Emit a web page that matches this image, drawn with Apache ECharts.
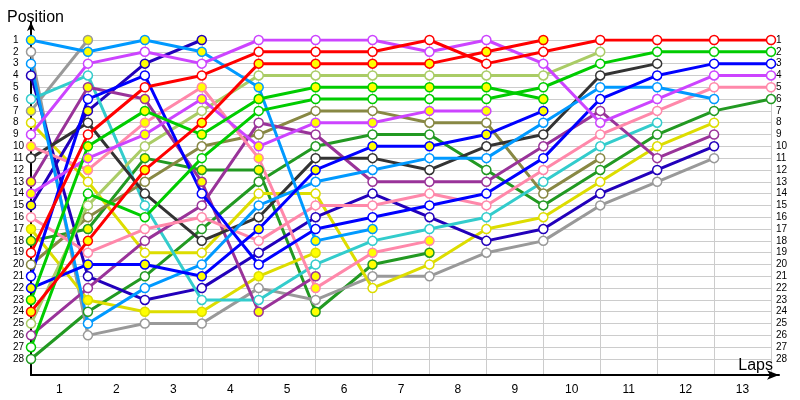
<!DOCTYPE html>
<html><head><meta charset="utf-8">
<script src="https://cdn.jsdelivr.net/npm/echarts@6/dist/echarts.min.js"></script>
<style>html,body{margin:0;padding:0;background:#fff}#c{width:800px;height:400px}</style>
</head><body><div id="c"></div>
<script>
// lap index 0 = grid / start, 1..13 = laps
const laps = [0,1,2,3,4,5,6,7,8,9,10,11,12,13];
const lapLabels = ['1','2','3','4','5','6','7','8','9','10','11','12','13'];
const labelSlots = [0.5,1.5,2.5,3.5,4.5,5.5,6.5,7.5,8.5,9.5,10.5,11.5,12.5];

// positions per lap (null = not running)
const redW      = [19,9,5,4,2,2,2,1,3,2,1,1,1,1];
const redY      = [24,18,12,8,3,3,3,3,2,1,null,null,null,null];
const violetW   = [9,3,2,3,1,1,1,2,1,3,8,6,4,4];
const violetY   = [14,11,9,6,10,8,8,7,7,null,null,null,null,null];
const greenW    = [27,14,16,11,7,6,6,6,6,5,3,2,2,2];
const greenY    = [23,10,7,9,6,5,5,5,5,6,null,null,null,null];
const blueW     = [21,6,4,14,20,17,16,15,14,11,6,4,3,3];
const blueY     = [22,20,20,21,17,12,10,10,9,7,null,null,null,null];
const indigoW   = [4,21,23,22,19,16,14,16,18,17,14,12,10,null];
const indigoY   = [15,7,3,1,null,null,null,null,null,null,null,null,null,null];
const pinkW     = [16,19,17,16,18,15,15,14,15,12,9,7,5,5];
const pinkY     = [10,12,8,5,11,22,19,18,null,null,null,null,null,null];
const lblueY    = [1,2,1,2,5,18,17,null,null,null,null,null,null,null];
const lblueW    = [3,25,22,20,15,13,12,11,11,8,5,5,6,null];
const cyanW     = [6,4,15,23,23,20,18,17,16,13,10,8,null,null];
const yellowW   = [8,13,19,19,14,14,22,20,17,16,13,10,8,null];
const yellowY   = [17,23,24,24,21,19,null,null,null,null,null,null,null,null];
const grayW     = [2,26,25,25,22,23,21,21,19,18,15,13,11,null];
const grayY     = [7,1,null,null,null,null,null,null,null,null,null,null,null,null];
const dkgrayW   = [11,8,14,18,16,11,11,12,10,9,4,3,null,null];
const oliveW    = [20,16,13,10,9,7,7,8,8,14,11,null,null,null];
const loliveW   = [25,15,10,7,4,4,4,4,4,4,2,null,null,null];
const dkpurpleW = [26,22,18,15,8,9,13,13,13,10,7,11,9,null];
const dkpurpleY = [13,5,6,13,24,21,null,null,null,null,null,null,null,null];
const dkgreenW  = [28,24,21,17,13,10,9,9,12,15,12,9,7,6];
const dkgreenY  = [18,17,11,12,12,24,20,19,null,null,null,null,null,null];

const W = '#ffffff', Y = '#ffff00';
const cars = [
  ['dkgreenW', '#229922', W, dkgreenW], ['dkgreenY', '#229922', Y, dkgreenY],
  ['grayW', '#999999', W, grayW], ['grayY', '#999999', Y, grayY],
  ['yellowW', '#dddd00', W, yellowW], ['yellowY', '#dddd00', Y, yellowY],
  ['indigoW', '#2200bb', W, indigoW], ['indigoY', '#2200bb', Y, indigoY],
  ['cyanW', '#33cccc', W, cyanW],
  ['oliveW', '#888844', W, oliveW], ['loliveW', '#aacc66', W, loliveW],
  ['dkpurpleW', '#993399', W, dkpurpleW], ['dkpurpleY', '#993399', Y, dkpurpleY],
  ['dkgrayW', '#333333', W, dkgrayW],
  ['pinkW', '#ff88aa', W, pinkW], ['pinkY', '#ff88aa', Y, pinkY],
  ['lblueW', '#0099ff', W, lblueW], ['lblueY', '#0099ff', Y, lblueY],
  ['blueW', '#0000ff', W, blueW], ['blueY', '#0000ff', Y, blueY],
  ['violetW', '#cc44ff', W, violetW], ['violetY', '#cc44ff', Y, violetY],
  ['greenW', '#00cc00', W, greenW], ['greenY', '#00cc00', Y, greenY],
  ['redW', '#ff0000', W, redW], ['redY', '#ff0000', Y, redY]
];

const toPoints = arr => arr.map((p, i) => p == null ? null : [laps[i], p]).filter(d => d);

const lineSeries = cars.map(([name, color, fill, arr]) => ({
  name, type: 'line', xAxisIndex: 0, yAxisIndex: 0,
  data: toPoints(arr), showSymbol: false,
  lineStyle: { color, width: 3 },
  emphasis: { disabled: true }, z: 3
}));
const markerSeries = cars.map(([name, color, fill, arr]) => ({
  name: name + ' marks', type: 'scatter', xAxisIndex: 0, yAxisIndex: 0,
  data: toPoints(arr), symbol: 'circle', symbolSize: 9,
  itemStyle: { color: fill, borderColor: color, borderWidth: 1.5, opacity: 1 },
  emphasis: { disabled: true }, z: 4
}));

const FONT = 'Liberation Sans';
const chart = echarts.init(document.getElementById('c'), null, { renderer: 'canvas' });
chart.setOption({
  animation: false,
  backgroundColor: '#ffffff',
  textStyle: { fontFamily: FONT },
  title: [
    { text: 'Position', left: 2, top: 5, textStyle: { fontSize: 16, fontWeight: 'normal', color: '#000', fontFamily: FONT } },
    { text: 'Laps', right: 22, top: 353, textStyle: { fontSize: 16, fontWeight: 'normal', color: '#000', fontFamily: FONT } }
  ],
  grid: [
    { left: 31, right: 29, top: 40, bottom: 41 },
    { left: 31, right: 29, top: 40, bottom: 25 },
    { left: 31, right: 21, top: 22, bottom: 25 }
  ],
  xAxis: [
    { gridIndex: 0, type: 'value', min: 0, max: 13, show: false },
    { gridIndex: 1, type: 'value', min: 0, max: 13, interval: 1,
      axisLine: { show: false }, axisTick: { show: false },
      splitLine: { show: true, lineStyle: { color: '#cccccc', width: 1 } },
      axisLabel: { customValues: labelSlots, formatter: v => lapLabels[Math.round(v - 0.5)],
        fontSize: 12, color: '#000', margin: 9, fontFamily: FONT } },
    { gridIndex: 2, type: 'value', min: 0, max: 1,
      axisLine: { show: true, onZero: false, symbol: ['none', 'arrow'], symbolSize: [7, 12], lineStyle: { color: '#000', width: 2 } },
      axisTick: { show: false }, axisLabel: { show: false }, splitLine: { show: false } }
  ],
  yAxis: [
    { gridIndex: 0, type: 'value', inverse: true, min: 1, max: 28, interval: 1,
      axisLine: { show: false }, axisTick: { show: false },
      splitLine: { show: true, lineStyle: { color: '#cccccc', width: 1 } },
      axisLabel: { fontSize: 10, color: '#000', align: 'left', margin: 18, fontFamily: FONT } },
    { gridIndex: 0, type: 'value', inverse: true, min: 1, max: 28, interval: 1, position: 'right',
      axisLine: { show: false }, axisTick: { show: false }, splitLine: { show: false },
      axisLabel: { fontSize: 10, color: '#000', margin: 5, fontFamily: FONT } },
    { gridIndex: 1, type: 'value', min: 0, max: 1, show: false },
    { gridIndex: 2, type: 'value', min: 0, max: 1,
      axisLine: { show: true, onZero: false, symbol: ['none', 'arrow'], symbolSize: [6, 9], lineStyle: { color: '#000', width: 2 } },
      axisTick: { show: false }, axisLabel: { show: false }, splitLine: { show: false } }
  ],
  series: lineSeries.concat(markerSeries)
});
</script></body></html>
